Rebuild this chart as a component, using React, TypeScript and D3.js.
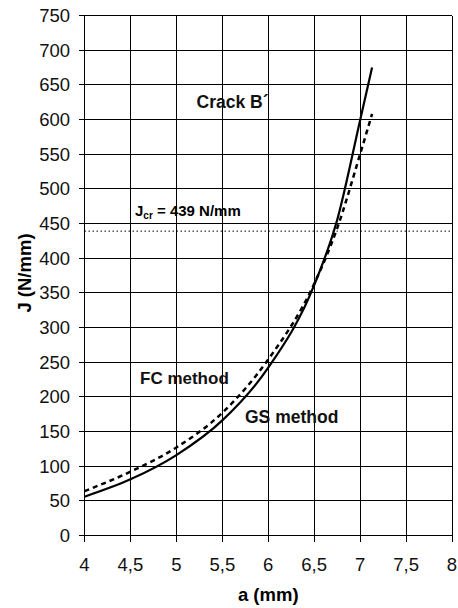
import { FC, useEffect, useRef } from 'react';
import * as d3 from 'd3';

// crack length a (mm)
const aValues = [4, 4.5, 5, 5.5, 6, 6.5, 6.75, 7, 7.13];
// GS method (solid)
const gsValues = [56, 81, 116, 166, 242, 361, 455, 599, 675];
// FC method (dashed)
const fcValues = [64, 92, 127, 177, 254, 363, 443, 550, 608];

const xTicks = [4, 4.5, 5, 5.5, 6, 6.5, 7, 7.5, 8];
const yTicks = d3.range(0, 751, 50);
const jCritical = 439;

const W = 458;
const H = 608;
const FONT = "'Liberation Sans', Arial, Helvetica, sans-serif";

const Chart: FC = () => {
  const ref = useRef<SVGSVGElement | null>(null);

  useEffect(() => {
    if (!ref.current) return;
    const svg = d3.select(ref.current);
    svg.selectAll('*').remove();

    const x = d3.scaleLinear().domain([4, 8]).range([84.5, 452]);
    const y = d3.scaleLinear().domain([0, 750]).range([535.5, 15.5]);

    svg.append('rect').attr('width', W).attr('height', H).attr('fill', '#fff');

    // grid
    const grid = svg.append('g').attr('stroke', '#000').attr('stroke-width', 1).attr('shape-rendering', 'crispEdges');
    grid
      .selectAll('line.v')
      .data(xTicks)
      .enter()
      .append('line')
      .attr('x1', (d) => x(d))
      .attr('x2', (d) => x(d))
      .attr('y1', y(750))
      .attr('y2', y(0) + 6);
    grid
      .selectAll('line.h')
      .data(yTicks)
      .enter()
      .append('line')
      .attr('x1', x(4) - 6)
      .attr('x2', x(8))
      .attr('y1', (d) => y(d))
      .attr('y2', (d) => y(d));

    // tick labels
    svg
      .append('g')
      .selectAll('text')
      .data(yTicks)
      .enter()
      .append('text')
      .attr('x', 70)
      .attr('y', (d) => y(d) + 6.5)
      .attr('text-anchor', 'end')
      .attr('font-family', FONT)
      .attr('font-size', 18.5)
      .attr('fill', '#111')
      .text((d) => d);

    svg
      .append('g')
      .selectAll('text')
      .data(xTicks)
      .enter()
      .append('text')
      .attr('x', (d) => x(d))
      .attr('y', 570.5)
      .attr('text-anchor', 'middle')
      .attr('font-family', FONT)
      .attr('font-size', 18.5)
      .attr('fill', '#111')
      .text((d) => String(d).replace('.', ','));

    // axis titles
    svg
      .append('text')
      .attr('x', x(6))
      .attr('y', 601)
      .attr('text-anchor', 'middle')
      .attr('font-family', FONT)
      .attr('font-weight', 'bold')
      .attr('font-size', 18.5)
      .text('a (mm)');
    svg
      .append('text')
      .attr('transform', 'translate(31,273) rotate(-90)')
      .attr('text-anchor', 'middle')
      .attr('font-family', FONT)
      .attr('font-weight', 'bold')
      .attr('font-size', 18.5)
      .text('J (N/mm)');

    // critical J line
    svg
      .append('line')
      .attr('x1', x(4))
      .attr('x2', x(8))
      .attr('y1', y(jCritical))
      .attr('y2', y(jCritical))
      .attr('stroke', '#000')
      .attr('stroke-width', 1)
      .attr('stroke-dasharray', '1.5,2.5');

    const jl = svg
      .append('text')
      .attr('x', 135)
      .attr('y', 216)
      .attr('font-family', FONT)
      .attr('font-weight', 'bold')
      .attr('font-size', 15);
    jl.append('tspan').text('J');
    jl.append('tspan').attr('font-size', 10).attr('dy', 3).text('cr');
    jl.append('tspan').attr('dy', -3).text(' = ' + jCritical + ' N/mm');

    // curves
    const line = d3
      .line<number>()
      .x((_d, i) => x(aValues[i]))
      .y((d) => y(d))
      .curve(d3.curveMonotoneX);

    svg
      .append('path')
      .datum(fcValues)
      .attr('d', line)
      .attr('fill', 'none')
      .attr('stroke', '#000')
      .attr('stroke-width', 2.5)
      .attr('stroke-dasharray', '5,4');

    svg
      .append('path')
      .datum(gsValues)
      .attr('d', line)
      .attr('fill', 'none')
      .attr('stroke', '#000')
      .attr('stroke-width', 2.2);

    // annotations
    const label = (tx: number, ty: number, s: string, size: number) =>
      svg
        .append('text')
        .attr('x', tx)
        .attr('y', ty)
        .attr('font-family', FONT)
        .attr('font-weight', 'bold')
        .attr('font-size', size)
        .attr('fill', '#111')
        .text(s);
    label(196.5, 108, 'Crack B\u00b4', 17.5);
    label(140, 384, 'FC method', 17);
    label(245, 422.5, 'GS method', 17.5);
  }, []);

  return <svg ref={ref} width={W} height={H} style={{ position: 'absolute', left: 0, top: 0 }} />;
};

export default function App() {
  return <Chart />;
}
